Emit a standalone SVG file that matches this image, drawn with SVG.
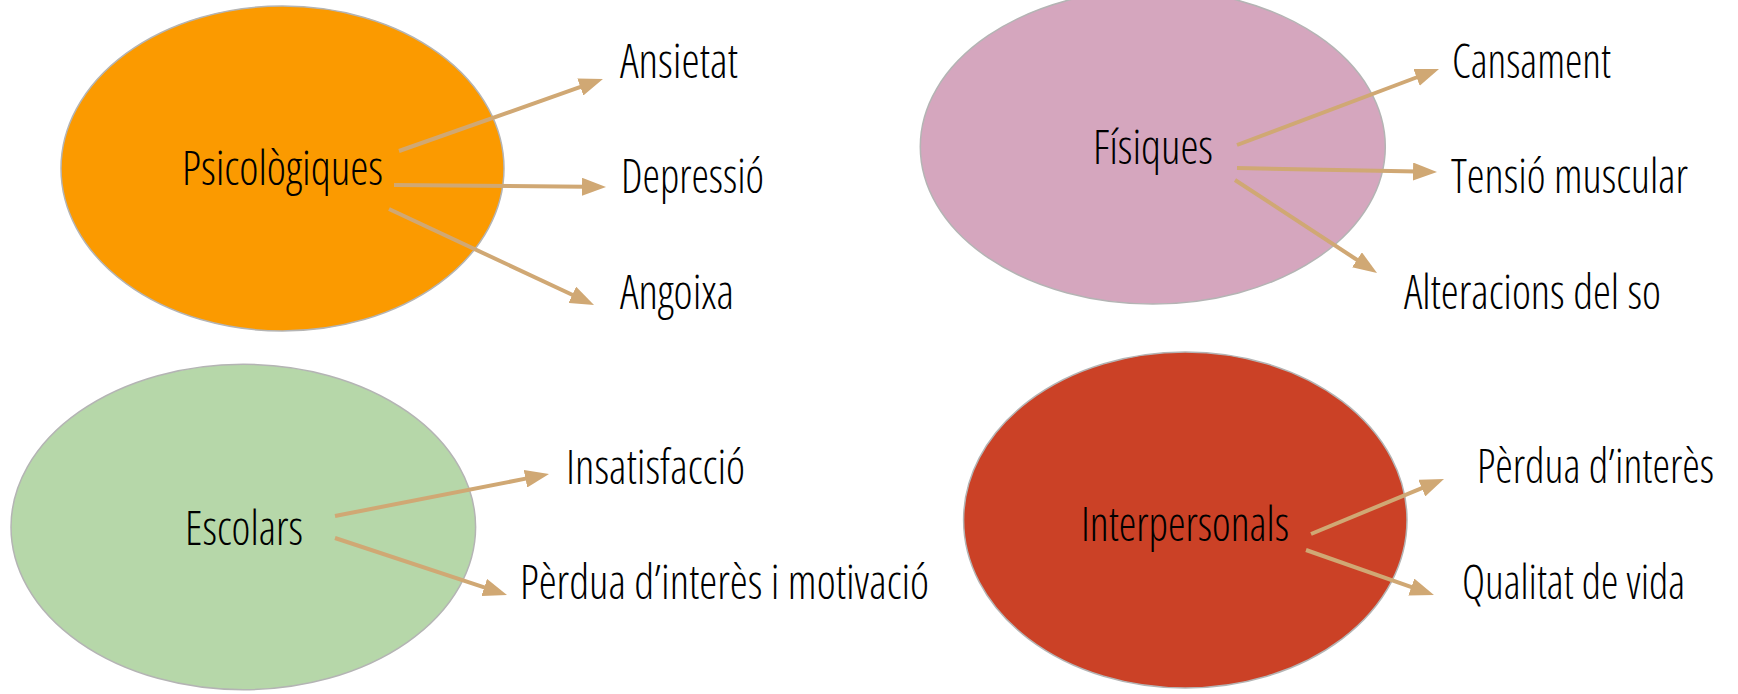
<svg xmlns="http://www.w3.org/2000/svg" width="1738" height="694" viewBox="0 0 1738 694">
<style>
.node ellipse{stroke:#B4B4B4;stroke-width:1.5}
text{font-family:"Open Sans","DejaVu Sans Condensed","Liberation Sans Narrow",sans-serif;font-weight:300;font-stretch:condensed;font-size:48px;fill:#000}
.conn line{stroke:#D0A874;stroke-width:4;fill:none;marker-end:url(#ah)}
</style>
<defs>
<marker id="ah" markerUnits="userSpaceOnUse" markerWidth="24" markerHeight="18" viewBox="0 0 24 18" refX="4" refY="9" orient="auto">
<path d="M0,0 L24,9 L0,18 z" fill="#D0A874"/>
</marker>
</defs>
<rect width="1738" height="694" fill="#fff"/>
<g id="psicologiques" class="node">
<ellipse cx="282.5" cy="168.5" rx="221.5" ry="162.5" fill="#FB9A00"/>
<text x="182" y="185" textLength="201" lengthAdjust="spacingAndGlyphs">Psicològiques</text>
</g>
<g id="fisiques" class="node">
<ellipse cx="1152.8" cy="146.7" rx="232.5" ry="157.3" fill="#D5A6BE"/>
<text x="1093" y="164" textLength="120" lengthAdjust="spacingAndGlyphs">Físiques</text>
</g>
<g id="escolars" class="node">
<ellipse cx="243.3" cy="527" rx="232.3" ry="162.7" fill="#B6D7A9"/>
<text x="185" y="545" textLength="118" lengthAdjust="spacingAndGlyphs">Escolars</text>
</g>
<g id="interpersonals" class="node">
<ellipse cx="1185.3" cy="520" rx="221.7" ry="168" fill="#CB4126"/>
<text x="1081" y="541" textLength="208" lengthAdjust="spacingAndGlyphs">Interpersonals</text>
</g>
<g id="ansietat"><text x="620" y="78" textLength="118" lengthAdjust="spacingAndGlyphs">Ansietat</text></g>
<g id="depressio"><text x="621" y="193" textLength="143" lengthAdjust="spacingAndGlyphs">Depressió</text></g>
<g id="angoixa"><text x="620" y="309" textLength="114" lengthAdjust="spacingAndGlyphs">Angoixa</text></g>
<g id="cansament"><text x="1452" y="78" textLength="159" lengthAdjust="spacingAndGlyphs">Cansament</text></g>
<g id="tensio"><text x="1451" y="193" textLength="237" lengthAdjust="spacingAndGlyphs">Tensió muscular</text></g>
<g id="alteracions"><text x="1404" y="309" textLength="257" lengthAdjust="spacingAndGlyphs">Alteracions del so</text></g>
<g id="insatisfaccio"><text x="566" y="484" textLength="179" lengthAdjust="spacingAndGlyphs">Insatisfacció</text></g>
<g id="perdua-motivacio"><text x="520" y="599" textLength="409" lengthAdjust="spacingAndGlyphs">Pèrdua d’interès i motivació</text></g>
<g id="perdua-interes"><text x="1477" y="483" textLength="237" lengthAdjust="spacingAndGlyphs">Pèrdua d’interès</text></g>
<g id="qualitat"><text x="1462" y="599" textLength="223" lengthAdjust="spacingAndGlyphs">Qualitat de vida</text></g>
<g id="connectors" class="conn">
<line x1="399" y1="151" x2="584.1" y2="85.7"/>
<line x1="394" y1="185" x2="586" y2="186.8"/>
<line x1="389" y1="209" x2="575.9" y2="296.5"/>
<line x1="1237" y1="145" x2="1420.3" y2="76"/>
<line x1="1237" y1="168" x2="1417" y2="171.6"/>
<line x1="1235" y1="180" x2="1360.3" y2="262"/>
<line x1="335" y1="516" x2="529.4" y2="477.9"/>
<line x1="335" y1="538" x2="488" y2="588.7"/>
<line x1="1311" y1="534" x2="1425.5" y2="486.6"/>
<line x1="1306" y1="550" x2="1415.1" y2="588.4"/>
</g>
</svg>
